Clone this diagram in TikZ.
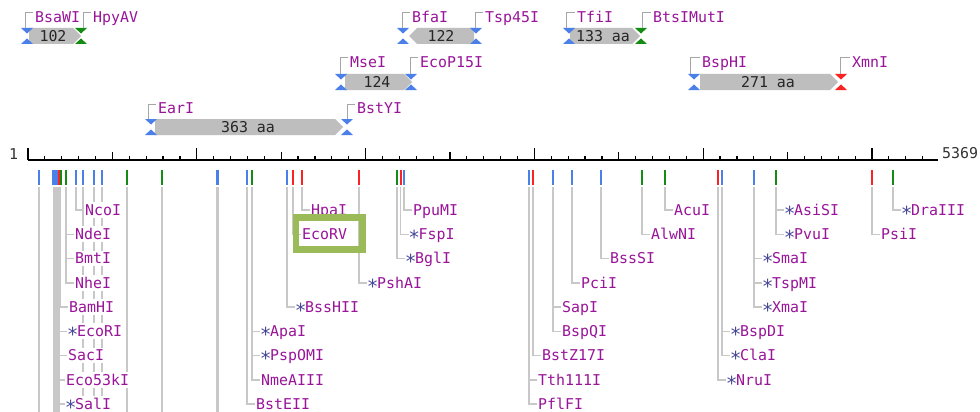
\documentclass[tikz,border=0pt]{standalone}
\usepackage{fontspec}
\usetikzlibrary{backgrounds}
\newfontfamily\pixfont{DejaVu Sans Mono}

\definecolor{enzpurple}{RGB}{153,20,153}
\definecolor{staricon}{RGB}{70,70,150}
\definecolor{cutblue}{RGB}{74,128,232}
\definecolor{cutgreen}{RGB}{20,140,20}
\definecolor{cutred}{RGB}{250,35,35}
\definecolor{orfgray}{RGB}{190,190,190}
\definecolor{leadergray}{RGB}{200,200,200}
\definecolor{boxgreen}{RGB}{155,187,89}

% asterisk that flags an enzyme name, one character cell wide
\newcommand\stm{\makebox[8.97pt][c]{\color{staricon}\raisebox{-5pt}{\scalebox{1.3}{*}}}}

% bow-tie cut-site marker on a feature row: x, centre y, colour
\newcommand\sitemark[3]{%
  \fill[#3] ({#1-6},{#2-8}) -- ({#1+6},{#2-8}) -- (#1,{#2-2.5}) -- cycle;
  \fill[#3] ({#1-6},{#2+8}) -- ({#1+6},{#2+8}) -- (#1,{#2+2.5}) -- cycle;}

% open reading frames: flat end, pointed end, centre y
\newcommand\orfright[3]{%
  \fill[orf] (#1,{#3-8}) -- ({#2-8},{#3-8}) -- (#2,#3) -- ({#2-8},{#3+8}) -- (#1,{#3+8}) -- cycle;}
\newcommand\orfleft[3]{%
  \fill[orf] (#1,#3) -- ({#1+8},{#3-8}) -- (#2,{#3-8}) -- (#2,{#3+8}) -- ({#1+8},{#3+8}) -- cycle;}

% enzyme label above a feature: name, text, bracket x, text x, label y, marker top y
\newcommand\toplabel[6]{%
  \node[enz] (#1) at (#4,#5) {#2};
  \coordinate (#1-m) at (#3,#6);
  \draw[bracket] (#1-m) |- ([xshift=-2pt,yshift=4pt]#1.west);}

% enzyme label below the ruler: name, text, site x, row
\newcommand\lowlabel[4]{%
  \node[enzlow] (#1) at ({#3+8},{210+24.25*#4}) {#2};
  \coordinate (#1-s) at (#3,187);
  \begin{pgfonlayer}{background}
    \draw[leader] (#1-s) |- (#1.west);
  \end{pgfonlayer}}

\begin{document}
\begin{tikzpicture}[x=1pt,y=-1pt,
  enz/.style={font=\pixfont\fontsize{14.9}{16}\selectfont, text=enzpurple,
    anchor=west, inner sep=0pt, text height=12.4pt, text depth=1.5pt},
  enzlow/.style={enz, fill=white, inner xsep=1pt, inner ysep=1pt},
  orftxt/.style={font=\pixfont\fontsize{14.9}{16}\selectfont, text=black!85, inner sep=0pt},
  axnum/.style={font=\pixfont\fontsize{14.9}{16}\selectfont, text=black!80, inner sep=0pt},
  orf/.style={fill=orfgray},
  leader/.style={draw=leadergray, line width=1.5pt},
  bracket/.style={draw=black!35, line width=1pt},
  sitetick/.style={line width=2pt},
  axisline/.style={line width=1.5pt},
  axtick/.style={line width=1.2pt}]

\useasboundingbox (0,0) rectangle (980,412);
\begin{pgfonlayer}{background}
  \fill[white] (0,0) rectangle (980,412);
\end{pgfonlayer}

% ---------------- features, row 1 ----------------
\orfright{29}{81}{36}
\node[orftxt] (orf102) at (53,36) {102};
\sitemark{27}{36}{cutblue}
\sitemark{81}{36}{cutgreen}
\toplabel{BsaWI}{BsaWI}{25}{35}{17}{28}
\toplabel{HpyAV}{HpyAV}{83}{93}{17}{28}

\orfleft{409}{474}{36}
\node[orftxt] (orf122) at (441,36) {122};
\sitemark{403}{36}{cutblue}
\sitemark{476}{36}{cutblue}
\toplabel{BfaI}{BfaI}{402}{412}{17}{28}
\toplabel{Tsp45I}{Tsp45I}{475}{485}{17}{28}

\orfright{570}{640}{36}
\node[orftxt] (orf133) at (603,36) {133 aa};
\sitemark{569}{36}{cutblue}
\sitemark{641}{36}{cutgreen}
\toplabel{TfiI}{TfiI}{566}{577}{17}{28}
\toplabel{BtsIMutI}{BtsIMutI}{642}{653}{17}{28}

% ---------------- features, row 2 ----------------
\orfright{345}{412}{82}
\node[orftxt] (orf124) at (377,82) {124};
\sitemark{341}{82}{cutblue}
\sitemark{411}{82}{cutblue}
\toplabel{MseI}{MseI}{340}{350}{62}{74}
\toplabel{EcoP15I}{EcoP15I}{410}{420}{62}{74}

\orfright{700}{838}{82}
\node[orftxt] (orf271) at (768,82) {271 aa};
\sitemark{694}{82}{cutblue}
\sitemark{841}{82}{cutred}
\toplabel{BspHI}{BspHI}{690}{702}{62}{74}
\toplabel{XmnI}{XmnI}{840}{852}{62}{74}

% ---------------- features, row 3 ----------------
\orfright{155}{343}{127}
\node[orftxt] (orf363) at (248,127) {363 aa};
\sitemark{151}{127}{cutblue}
\sitemark{347}{127}{cutblue}
\toplabel{EarI}{EarI}{148}{158}{108}{119}
\toplabel{BstYI}{BstYI}{347}{357}{108}{119}

% ---------------- ruler ----------------
\draw[axisline] (28,160) -- (938,160);
\foreach \i in {0,...,53}{
  \pgfmathsetmacro\th{ifthenelse(mod(\i,10)==0,12,ifthenelse(mod(\i,5)==0,8,4))}
  \draw[axtick] ({28+16.88*\i},160) -- ++(0,-\th);
}
\node[axnum] (startnum) at (13.5,154) {1};
\node[axnum, anchor=west] (endnum) at (942,153) {5369};

% ---------------- cut-site ticks ----------------
\fill[cutblue] (52,170) rectangle (57.5,185);
\foreach \x in {39,76,83,94,102,247,287,404,529,553,572,601,722,754}
  \draw[sitetick, cutblue] (\x,170) -- (\x,185);
\draw[cutblue, line width=3pt] (217,170) -- (217,185);
\foreach \x in {60.5,65.5,127,162,252,397,642,665,776,893}
  \draw[sitetick, cutgreen] (\x,170) -- (\x,185);
\foreach \x in {58.5,293,302,359,400.5,533,718,872}
  \draw[sitetick, cutred] (\x,170) -- (\x,185);

% ---------------- leaders running past the bottom edge ----------------
\begin{pgfonlayer}{background}
  \fill[leadergray] (53,187) rectangle (60,412);
  \foreach \x in {39,83,94,102,127,162}{
    \coordinate (top\x) at (\x,187);
    \coordinate (bot\x) at (\x,412);
    \draw[leader] (top\x) -- (bot\x);
  }
  \coordinate (top217) at (217,187);
  \coordinate (bot217) at (217,412);
  \draw[leader, line width=3pt] (top217) -- (bot217);
\end{pgfonlayer}

% ---------------- enzyme labels below the ruler ----------------
\lowlabel{NcoI}{NcoI}{76}{0}
\lowlabel{NdeI}{NdeI}{66}{1}
\lowlabel{BmtI}{BmtI}{66}{2}
\lowlabel{NheI}{NheI}{66}{3}
\lowlabel{BamHI}{BamHI}{60}{4}
\lowlabel{EcoRI}{\stm EcoRI}{59}{5}
\lowlabel{SacI}{SacI}{59}{6}
\lowlabel{Eco53kI}{Eco53kI}{57}{7}
\lowlabel{SalI}{\stm SalI}{57}{8}

\lowlabel{HpaI}{HpaI}{302}{0}
\lowlabel{EcoRV}{EcoRV}{293}{1}
\lowlabel{PpuMI}{PpuMI}{404}{0}
\lowlabel{FspI}{\stm FspI}{400.5}{1}
\lowlabel{BglI}{\stm BglI}{397}{2}
\lowlabel{PshAI}{\stm PshAI}{359}{3}
\lowlabel{BssHII}{\stm BssHII}{287}{4}
\lowlabel{ApaI}{\stm ApaI}{252}{5}
\lowlabel{PspOMI}{\stm PspOMI}{252}{6}
\lowlabel{NmeAIII}{NmeAIII}{252}{7}
\lowlabel{BstEII}{BstEII}{247}{8}

\lowlabel{AcuI}{AcuI}{665}{0}
\lowlabel{AlwNI}{AlwNI}{642}{1}
\lowlabel{BssSI}{BssSI}{601}{2}
\lowlabel{PciI}{PciI}{572}{3}
\lowlabel{SapI}{SapI}{553}{4}
\lowlabel{BspQI}{BspQI}{553}{5}
\lowlabel{BstZ17I}{BstZ17I}{533}{6}
\lowlabel{Tth111I}{Tth111I}{529}{7}
\lowlabel{PflFI}{PflFI}{529}{8}

\lowlabel{AsiSI}{\stm AsiSI}{776}{0}
\lowlabel{PvuI}{\stm PvuI}{776}{1}
\lowlabel{SmaI}{\stm SmaI}{754}{2}
\lowlabel{TspMI}{\stm TspMI}{754}{3}
\lowlabel{XmaI}{\stm XmaI}{754}{4}
\lowlabel{BspDI}{\stm BspDI}{722}{5}
\lowlabel{ClaI}{\stm ClaI}{722}{6}
\lowlabel{NruI}{\stm NruI}{718}{7}

\lowlabel{DraIII}{\stm DraIII}{893}{0}
\lowlabel{PsiI}{PsiI}{872}{1}

% highlight frame round EcoRV
\draw[boxgreen, line width=6.5pt] (296,217.5) rectangle (362.5,249.5);

\end{tikzpicture}
\end{document}
